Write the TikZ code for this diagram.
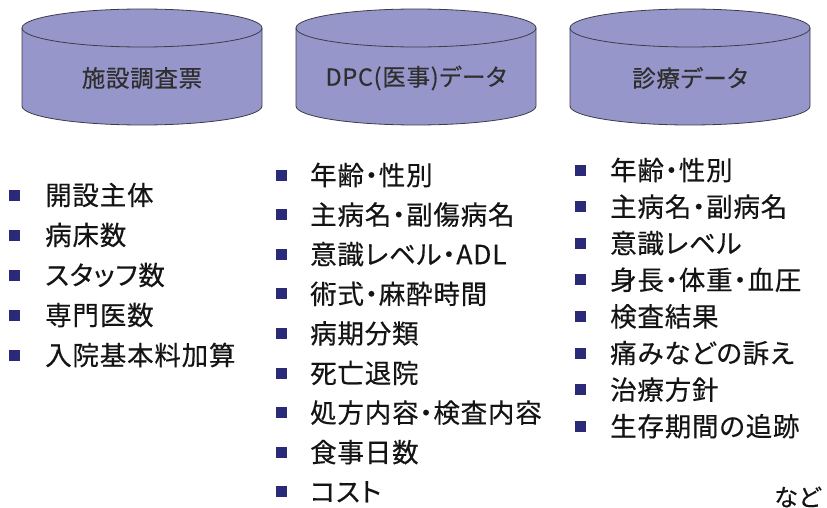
\documentclass[tikz,border=0pt]{standalone}
\usepackage{fontspec}
\setmainfont{Noto Sans CJK JP}[RawFeature=+palt, LetterSpace=3, FakeBold=0.4]
\definecolor{cylfill}{RGB}{150,150,202}
\definecolor{cylline}{RGB}{60,60,72}
\definecolor{bul}{RGB}{42,42,120}
\definecolor{txt}{RGB}{20,20,20}
\tikzset{
  cylbody/.style={fill=cylfill, draw=cylline, line width=0.8pt},
  cylrim/.style={draw=cylline, line width=0.8pt},
  cyltext/.style={font=\fontsize{23.5}{27}\selectfont, text=black!82, inner sep=0pt},
  bulletsq/.style={fill=bul, draw=none, minimum size=11pt, inner sep=0pt},
  item/.style={anchor=west, font=\fontsize{26.5}{30}\selectfont, text=txt, inner sep=0pt},
}
\begin{document}
\begin{tikzpicture}[x=1pt,y=1pt]
\useasboundingbox (0,0) rectangle (827,-508);
\foreach \cx/\nm/\lab in {142/c1/{施設調査票}, 416/c2/{DPC(医事)データ}, 690/c3/{診療データ}} {
  \filldraw[cylbody] (\cx-120,-28) -- (\cx-120,-106)
     arc[start angle=180,end angle=360,x radius=120pt,y radius=19pt]
     -- (\cx+120,-28)
     arc[start angle=0,end angle=180,x radius=120pt,y radius=19pt] -- cycle;
  \draw[cylrim] (\cx-120,-28) arc[start angle=180,end angle=360,x radius=120pt,y radius=19pt];
  \node[cyltext] (\nm) at (\cx,-78) {\lab};
}
% column 1
\foreach \t [count=\i] in {開設主体, 病床数, スタッフ数, 専門医数, 入院基本料加算} {
  \pgfmathsetmacro\yy{-195-40*(\i-1)}
  \node[bulletsq] (ba\i) at (14,\yy) {};
  \node[item] (ta\i) at (45,\yy) {\t};
}
% column 2
\foreach \t [count=\i] in {年齢・性別, 主病名・副傷病名, 意識レベル・ADL, 術式・麻酔時間, 病期分類, 死亡退院, 処方内容・検査内容, 食事日数, コスト} {
  \pgfmathsetmacro\yy{-175-39.6*(\i-1)}
  \node[bulletsq] (bb\i) at (281,\yy) {};
  \node[item] (tb\i) at (310,\yy) {\t};
}
% column 3
\foreach \t [count=\i] in {年齢・性別, 主病名・副病名, 意識レベル, 身長・体重・血圧, 検査結果, 痛みなどの訴え, 治療方針, 生存期間の追跡} {
  \pgfmathsetmacro\yy{-170-36.6*(\i-1)}
  \node[bulletsq] (bc\i) at (580,\yy) {};
  \node[item] (tc\i) at (610,\yy) {\t};
}
\node[item, font=\fontsize{24}{28}\selectfont] (nado) at (774,-497) {など};
\end{tikzpicture}
\end{document}
